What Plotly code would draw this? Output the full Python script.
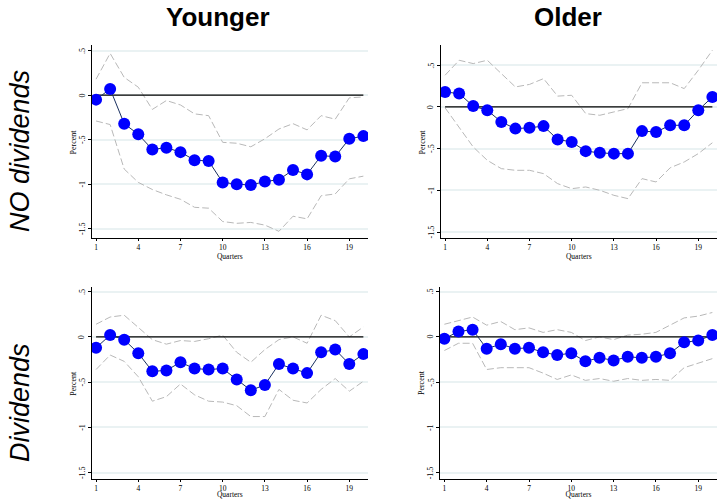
import plotly.graph_objects as go

quarters = list(range(1, 21))

# Younger, NO dividends
y_nd_irf = [-0.05, 0.07, -0.32, -0.44, -0.61, -0.59, -0.64, -0.73, -0.74, -0.98,
            -1.00, -1.01, -0.97, -0.95, -0.84, -0.89, -0.68, -0.69, -0.49, -0.46]
y_nd_hi = [0.18, 0.47, 0.20, 0.09, -0.16, -0.06, -0.11, -0.21, -0.23, -0.53,
           -0.54, -0.58, -0.49, -0.38, -0.32, -0.39, -0.23, -0.27, -0.03, -0.02]
y_nd_lo = [-0.29, -0.33, -0.83, -0.98, -1.06, -1.12, -1.17, -1.26, -1.27, -1.42,
           -1.44, -1.43, -1.46, -1.53, -1.36, -1.39, -1.13, -1.11, -0.94, -0.91]

# Older, NO dividends
o_nd_irf = [0.18, 0.16, 0.01, -0.04, -0.18, -0.26, -0.25, -0.23, -0.39, -0.42,
            -0.53, -0.55, -0.56, -0.56, -0.29, -0.30, -0.22, -0.22, -0.04, 0.12]
o_nd_hi = [0.38, 0.56, 0.52, 0.56, 0.40, 0.24, 0.27, 0.34, 0.13, 0.14,
           -0.08, -0.10, -0.06, -0.02, 0.29, 0.29, 0.29, 0.22, 0.44, 0.68]
o_nd_lo = [-0.01, -0.24, -0.48, -0.64, -0.74, -0.76, -0.76, -0.80, -0.92, -0.98,
           -0.96, -1.00, -1.06, -1.10, -0.86, -0.90, -0.73, -0.66, -0.56, -0.43]

# Younger, Dividends
y_d_irf = [-0.12, 0.02, -0.03, -0.18, -0.38, -0.37, -0.28, -0.35, -0.36, -0.35,
           -0.47, -0.59, -0.53, -0.30, -0.35, -0.40, -0.17, -0.14, -0.30, -0.19]
y_d_hi = [0.14, 0.22, 0.24, 0.10, -0.03, -0.08, -0.04, -0.05, -0.02, 0.02,
          -0.17, -0.28, -0.14, -0.03, 0.00, -0.07, 0.24, 0.18, 0.00, 0.11]
y_d_lo = [-0.36, -0.20, -0.27, -0.44, -0.71, -0.66, -0.52, -0.64, -0.71, -0.72,
          -0.76, -0.88, -0.88, -0.58, -0.70, -0.73, -0.58, -0.46, -0.60, -0.49]

# Older, Dividends
o_d_irf = [-0.02, 0.06, 0.08, -0.13, -0.08, -0.13, -0.12, -0.17, -0.20, -0.18,
           -0.27, -0.23, -0.26, -0.22, -0.23, -0.22, -0.18, -0.06, -0.04, 0.02]
o_d_hi = [0.14, 0.18, 0.22, 0.13, 0.17, 0.08, 0.10, 0.05, 0.08, 0.05,
          -0.04, 0.00, -0.03, 0.02, 0.03, 0.05, 0.13, 0.21, 0.23, 0.27]
o_d_lo = [-0.15, -0.07, -0.07, -0.36, -0.34, -0.34, -0.34, -0.40, -0.47, -0.42,
          -0.48, -0.46, -0.49, -0.46, -0.48, -0.47, -0.48, -0.34, -0.29, -0.24]

x_tickvals = [1, 4, 7, 10, 13, 16, 19]
y_tickvals = [-1.5, -1, -0.5, 0, 0.5]
y_ticktext = ["-1.5", "-1", "-.5", "0", ".5"]
col_titles = ["Younger", "Older"]
row_titles = ["NO dividends", "Dividends"]

panels = [
    (y_nd_irf, y_nd_hi, y_nd_lo),
    (o_nd_irf, o_nd_hi, o_nd_lo),
    (y_d_irf, y_d_hi, y_d_lo),
    (o_d_irf, o_d_hi, o_d_lo),
]

W, H = 717, 499
axis_left_px = [91.7, 440.7, 91.7, 440.0]
x_domains = [[91.7 / W, 368 / W], [440.7 / W, 1.0], [91.7 / W, 368 / W], [440 / W, 1.0]]
y_domains = [[1 - 238 / H, 1 - 45 / H], [1 - 238 / H, 1 - 45 / H],
             [1 - 479 / H, 1 - 286.7 / H], [1 - 479 / H, 1 - 286.7 / H]]
y_ranges = [[-1.605, 0.564], [-1.572, 0.743], [-1.57, 0.555], [-1.57, 0.555]]

SERIF = "Liberation Serif, Times New Roman, serif"
SANS = "Liberation Sans, Arial, sans-serif"

fig = go.Figure()
layout = {}
annotations = []
for i, (irf, hi, lo) in enumerate(panels):
    n = "" if i == 0 else str(i + 1)
    xa, ya = "x" + n, "y" + n
    for band in (hi, lo):
        fig.add_trace(go.Scatter(x=quarters, y=band, mode="lines", xaxis=xa, yaxis=ya,
                                 line=dict(color="#b8b8b8", width=1, dash="7px,3px"),
                                 showlegend=False, hoverinfo="skip"))
    fig.add_trace(go.Scatter(x=quarters, y=[0] * len(quarters), mode="lines", xaxis=xa, yaxis=ya,
                             line=dict(color="black", width=1.3), showlegend=False,
                             hoverinfo="skip"))
    fig.add_trace(go.Scatter(x=quarters, y=irf, mode="lines+markers", xaxis=xa, yaxis=ya,
                             line=dict(color="#1a3060", width=1),
                             marker=dict(color="#0000ff", size=12),
                             showlegend=False))
    layout["xaxis" + n] = dict(
        domain=x_domains[i], anchor=ya, range=[0.69, 20.33],
        tickvals=x_tickvals, ticks="outside", ticklen=2, tickcolor="black",
        showline=True, linecolor="black", linewidth=1, showgrid=False, zeroline=False,
        tickfont=dict(family=SERIF, size=7.5, color="black"),
        title=dict(text="Quarters", font=dict(family=SERIF, size=7.5, color="black"), standoff=2),
    )
    layout["yaxis" + n] = dict(
        domain=y_domains[i], anchor=xa, range=y_ranges[i],
        tickvals=y_tickvals, showticklabels=False,
        ticks="outside", ticklen=3, tickcolor="black",
        showline=True, linecolor="black", linewidth=1,
        showgrid=True, gridcolor="#eaf2f3", gridwidth=1.5, zeroline=False,
    )
    # rotated y tick labels, placed on the axis scale
    for val, txt in zip(y_tickvals, y_ticktext):
        annotations.append(dict(
            text=txt, x=(axis_left_px[i] - 9.3) / W, xref="paper", y=val, yref=ya,
            showarrow=False, textangle=-90, xanchor="center", yanchor="middle",
            font=dict(family=SERIF, size=8, color="black")))
    annotations.append(dict(
        text="Percent", x=(axis_left_px[i] - 17.8) / W, xref="paper",
        y=sum(y_domains[i]) / 2, yref="paper",
        showarrow=False, textangle=-90, xanchor="center", yanchor="middle",
        font=dict(family=SERIF, size=8, color="black")))

annotations += [
    dict(text="<b>" + col_titles[0] + "</b>", x=218 / W, y=1 - 17.5 / H, xref="paper", yref="paper",
         showarrow=False, font=dict(family=SANS, size=26, color="black"),
         xanchor="center", yanchor="middle"),
    dict(text="<b>" + col_titles[1] + "</b>", x=568 / W, y=1 - 17.5 / H, xref="paper", yref="paper",
         showarrow=False, font=dict(family=SANS, size=26, color="black"),
         xanchor="center", yanchor="middle"),
    dict(text="<i>" + row_titles[0] + "</i>", x=20 / W, y=1 - 151 / H, xref="paper", yref="paper",
         showarrow=False, textangle=-90, font=dict(family=SANS, size=27, color="black"),
         xanchor="center", yanchor="middle"),
    dict(text="<i>" + row_titles[1] + "</i>", x=20 / W, y=1 - 403 / H, xref="paper", yref="paper",
         showarrow=False, textangle=-90, font=dict(family=SANS, size=27, color="black"),
         xanchor="center", yanchor="middle"),
]

fig.update_layout(
    width=W, height=H, margin=dict(l=0, r=0, t=0, b=0),
    paper_bgcolor="white", plot_bgcolor="white",
    annotations=annotations, **layout,
)

fig.write_html("out.html")
